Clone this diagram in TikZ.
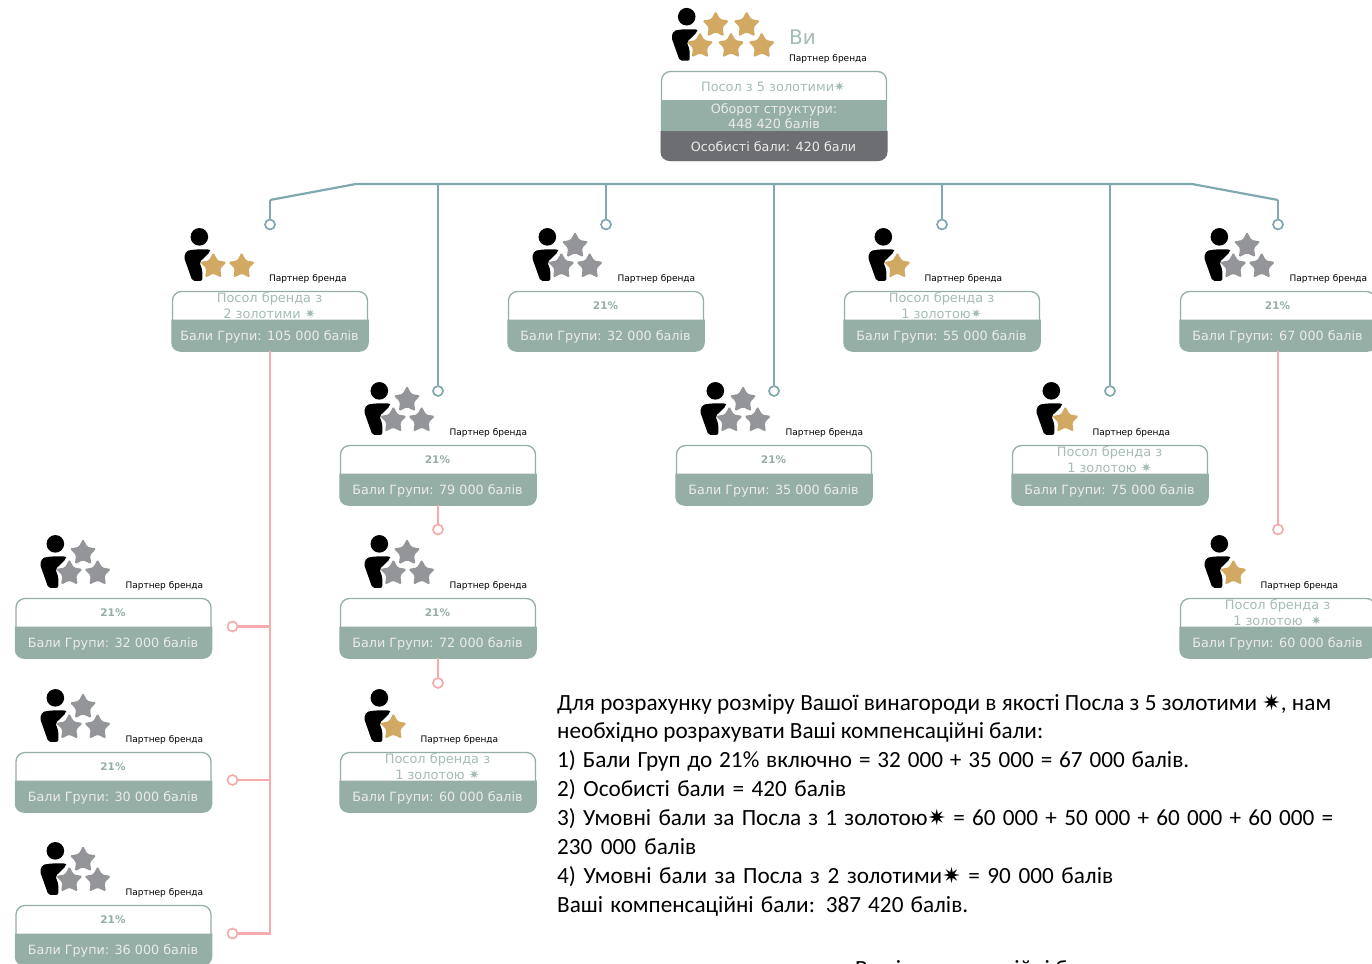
\documentclass[tikz,border=0pt]{standalone}
\usepackage{fontspec}
\setmainfont{DejaVu Sans}
\newfontfamily\bodyfont{Carlito}
\newfontfamily\symfont{DejaVu Sans}
\usetikzlibrary{shapes.geometric}
\definecolor{line teal}{HTML}{7FA9AE}
\definecolor{line pink}{HTML}{F5ABAB}
\definecolor{card green}{HTML}{95AFA6}
\definecolor{card grey}{HTML}{6D6E71}
\definecolor{rank text}{HTML}{A5BCB3}
\definecolor{star gold}{HTML}{D2A962}
\definecolor{star grey}{HTML}{939598}
\newcommand{\goldmark}{{\symfont ✷}}
\newcommand{\bigmark}{{\symfont\fontsize{22}{29}\selectfont ✷}}
\newcommand{\pct}{\raisebox{-1pt}{\color{card green}\fontsize{10.5}{12}\selectfont\textbf{21\%}}}
\newcommand{\fitline}[2]{\makebox[#1][s]{#2}}
\tikzset{
  cardframe/.style={draw=card green, line width=1.3pt, fill=white, rounded corners=9pt, minimum width=195pt, minimum height=59pt, inner sep=0pt},
  ranktext/.style={text=rank text, font=\fontsize{12.9}{16}\selectfont, align=center, inner sep=0pt},
  pointstext/.style={text=white!92!black, font=\fontsize{12.75}{15}\selectfont, align=center, inner sep=0pt},
  parttext/.style={font=\fontsize{9}{10}\selectfont, text=black, anchor=west, inner sep=0pt},
  tealline/.style={draw=line teal, line width=2.2pt},
  pinkline/.style={draw=line pink, line width=2.2pt},
  tealdot/.style={circle, draw=line teal, fill=white, line width=1.7pt, minimum size=10pt, inner sep=0pt},
  pinkdot/.style={circle, draw=line pink, fill=white, line width=1.7pt, minimum size=10pt, inner sep=0pt},
  gold/.style={star, star points=5, star point ratio=1.9, fill=star gold, rounded corners=1.5pt, minimum size=28pt, inner sep=0pt},
  grey/.style={star, star points=5, star point ratio=1.9, fill=star grey, rounded corners=1.5pt, minimum size=28pt, inner sep=0pt},
  figure/.pic={
    \fill[black] (0,0) circle (8.8);
    \fill[black, rounded corners=2pt] (-4.3,12.6) -- (10.7,12.6) -- (10.7,15) -- (2.4,23.3) -- (0,25) -- (3,33.3) -- (3,44) -- (-7,44) -- (-15.3,20.6) -- (-13,14) -- cycle;
  },
  grey three/.pic={
    \pic {figure};
    \node[grey] (s1) at (27.7,9) {};
    \node[grey] (s2) at (14,29.5) {};
    \node[grey] (s3) at (42.3,29.5) {};
    \node[parttext] (part) at (70,42) {Партнер бренда};
  },
  gold two/.pic={
    \pic {figure};
    \node[gold] (s1) at (14,29.5) {};
    \node[gold] (s2) at (42.3,29.5) {};
    \node[parttext] (part) at (69.5,42) {Партнер бренда};
  },
  gold one/.pic={
    \pic {figure};
    \node[gold] (s1) at (14,29.5) {};
    \node[parttext] (part) at (41,42) {Партнер бренда};
  },
}

\begin{document}
\begin{tikzpicture}[x=1pt,y=-1pt]
  \useasboundingbox (0,0) rectangle (1372,963);
  \clip (0,0) rectangle (1372,963);

  % top card
  \node[cardframe, minimum width=225pt, minimum height=89pt] (you) at (774,116) {};
  \fill[card green] (661,100) rectangle (887,131);
  \fill[card grey] (660.5,131) -- (887.5,131) [rounded corners=9pt] -- (887.5,161) -- (660.5,161) -- (660.5,131);
  \node[ranktext] (you-rank) at (773,87) {Посол з 5 золотими\goldmark};
  \node[pointstext] (you-total) at (774,116) {Оборот структури:\\448 420 балів};
  \node[pointstext] (you-own) at (773.5,146.5) {Особисті бали: 420 бали};
  \pic at (686.7,16.7) {figure};
  \foreach \pos/\name in {{(715.7,25)/y1}, {(746.7,25)/y2}, {(700,46)/y3}, {(731,46)/y4}, {(761.7,46)/y5}} {
    \node[gold] (\name) at \pos {};
  }
  \node[anchor=west, inner sep=0pt, text=rank text, font=\fontsize{20}{22}\selectfont] (you-name) at (789,37) {Ви};
  \node[parttext] (you-part) at (789,58.5) {Партнер бренда};

  % bus above the row of cards
  \coordinate (bus-l) at (356,184);
  \coordinate (bus-r) at (1192,184);
  \coordinate (bend-l) at (270,200);
  \coordinate (bend-r) at (1278,200);
  \draw[tealline] (bend-l) -- (bus-l) -- (bus-r) -- (bend-r);
  \foreach \pos/\top/\name in {{(270,224.5)/bend-l/a}, {(606,224.5)/bus-l/c}, {(942,224.5)/bus-l/e}, {(1278,224.5)/bend-r/g}, {(438,391)/bus-l/b}, {(774,391)/bus-l/d}, {(1110,391)/bus-l/f}} {
    \node[tealdot] (dot-\name) at \pos {};
    \draw[tealline] (dot-\name.north) -- (dot-\name.north |- \top);
  }

  % cards
  \foreach \pos/\name/\kind/\figx/\rank/\pts in {
    {(270,321)/a/gold two/27.5/{Посол бренда з\\2 золотими \goldmark}/105 000},
    {(438,475)/b/grey three/39.5/\pct/79 000},
    {(606,321)/c/grey three/39.5/\pct/32 000},
    {(774,475)/d/grey three/39.5/\pct/35 000},
    {(942,321)/e/gold one/39.5/{Посол бренда з\\1 золотою\goldmark}/55 000},
    {(1110,475)/f/gold one/39.5/{Посол бренда з\\1 золотою \goldmark}/75 000},
    {(1278,321)/g/grey three/39.5/\pct/67 000},
    {(438,628)/h/grey three/39.5/\pct/72 000},
    {(438,782)/i/gold one/39.5/{Посол бренда з\\1 золотою \goldmark}/60 000},
    {(1278,628)/j/gold one/39.5/{Посол бренда з\\1 золотою \ \goldmark}/60 000},
    {(113.5,628)/k/grey three/40/\pct/32 000},
    {(113.5,782)/l/grey three/40/\pct/30 000},
    {(113.5,935)/m/grey three/40/\pct/36 000}} {
    \node[cardframe] (\name) at \pos {};
    \fill[card green] ([yshift=1.5pt,xshift=-0.6pt]\name.west) -- ([yshift=1.5pt,xshift=0.6pt]\name.east) [rounded corners=9pt] -- ([xshift=0.6pt,yshift=-0.6pt]\name.south east) -- ([xshift=-0.6pt,yshift=-0.6pt]\name.south west) -- ([yshift=1.5pt,xshift=-0.6pt]\name.west);
    \node[ranktext] (\name-rank) at ([yshift=15pt,xshift=-0.5pt]\name.center) {\rank};
    \node[pointstext] (\name-pts) at ([yshift=-15.8pt,xshift=-0.5pt]\name.center) {Бали Групи: \pts{} балів};
    \pic (\name-) at ([shift={(\figx,-54)}]\name.north west) {\kind};
  }

  % pink branches
  \node[pinkdot] (dot-h) at (438,529.5) {};
  \node[pinkdot] (dot-i) at (438,683) {};
  \node[pinkdot] (dot-j) at (1278,529.5) {};
  \node[pinkdot] (dot-k) at (232.5,626.5) {};
  \node[pinkdot] (dot-l) at (232.5,780) {};
  \node[pinkdot] (dot-m) at (232.5,933.5) {};
  \draw[pinkline] (b.south) -- (dot-h);
  \draw[pinkline] (h.south) -- (dot-i);
  \draw[pinkline] (g.south) -- (dot-j);
  \coordinate (fork-m) at (a.south |- dot-m);
  \draw[pinkline] (a.south) -- (fork-m) -- (dot-m);
  \draw[pinkline] (dot-k) -- (dot-k -| a.south);
  \draw[pinkline] (dot-l) -- (dot-l -| a.south);

  % text on the right
  \node[anchor=north west, inner sep=0pt, align=left, text width=810pt, font=\bodyfont\fontsize{23.2}{28.9}\selectfont] (note) at (557,693.5) {\spaceskip=0pt \xspaceskip=0pt
  \fitline{774pt}{Для розрахунку розміру Вашої винагороди в якості Посла з 5 золотими \bigmark, нам}\\
  \fitline{486pt}{необхідно розрахувати Ваші компенсаційні бали:}\\
  \fitline{632pt}{1) Бали Груп до 21\% включно = 32 000 + 35 000 = 67 000 балів.}\\
  \fitline{289pt}{2) Особисті бали = 420 балів}\\
  \fitline{776pt}{3) Умовні бали за Посла з 1 золотою\bigmark{} = 60 000 + 50 000 + 60 000 + 60 000 =}\\
  \fitline{139pt}{230 000 балів}\\
  \fitline{556pt}{4) Умовні бали за Посла з 2 золотими\bigmark{} = 90 000 балів}\\
  \fitline{411pt}{Ваші компенсаційні бали: 387 420 балів.}};
  \node[anchor=base west, inner sep=0pt, font=\bodyfont\fontsize{23.2}{29}\selectfont] (note-cut) at (855,976) {Ваші компенсаційні бали};
\end{tikzpicture}
\end{document}
